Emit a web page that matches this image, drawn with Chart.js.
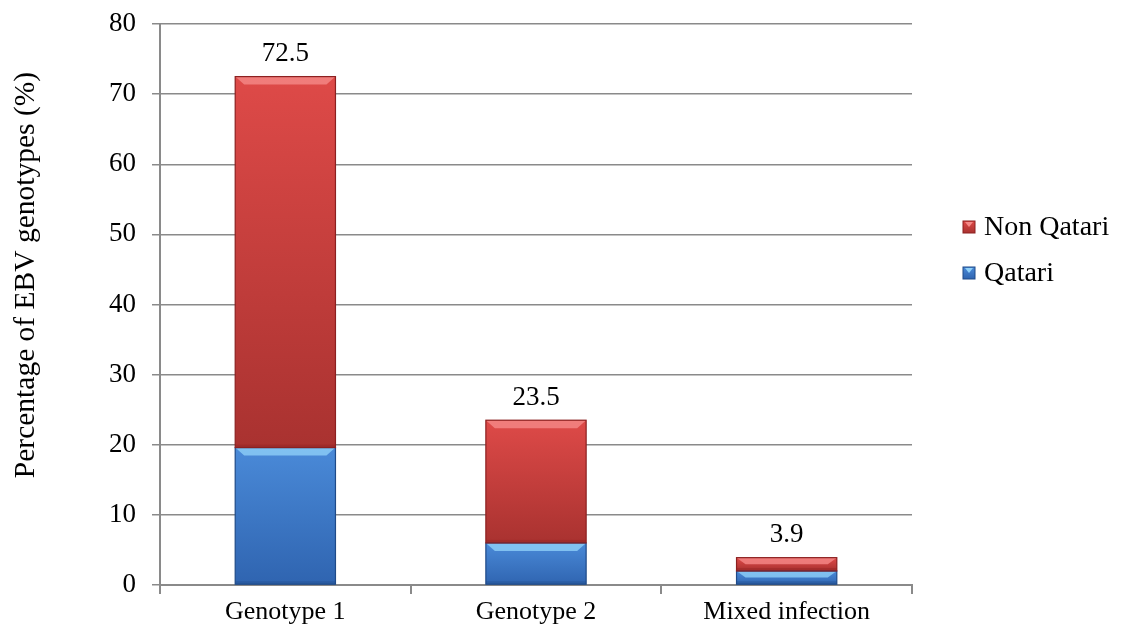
<!DOCTYPE html>
<html>
<head>
<meta charset="utf-8">
<script src="https://cdn.jsdelivr.net/npm/chart.js@4.4.1/dist/chart.umd.min.js"></script>
<style>
  html, body { margin: 0; padding: 0; background: #ffffff; }
  #wrap { width: 1125px; height: 631px; position: relative; }
</style>
</head>
<body>
<div id="wrap"><canvas id="ebvChart"></canvas></div>
<script>
'use strict';

/* ── Data ─────────────────────────────────── */
const CATEGORIES  = ['Genotype 1', 'Genotype 2', 'Mixed infection'];
const QATARI      = [19.6, 6.0, 2.0];
const NON_QATARI  = [52.9, 17.5, 1.9];
const TOTALS      = ['72.5', '23.5', '3.9'];
const SERIES_NAMES = ['Qatari', 'Non Qatari'];
const Y_TITLE     = 'Percentage of EBV genotypes (%)';

/* ── Look ─────────────────────────────────── */
const FONT = "'Liberation Serif', 'Times New Roman', serif";
const AXIS_GREY = '#8a8a8a';
const PALETTE = {
  red  : { top: '#de4a48', bottom: '#a93230', edge: '#8c2020', light: '#f58a88' },
  blue : { top: '#4a8ad8', bottom: '#2f64b0', edge: '#1f4a88', light: '#8fd0f8' },
};

/* ── Helpers ──────────────────────────────── */
// vertical gradient spanning one stacked segment
function segmentGradient(ctx, pal, stackBase) {
  const chart = ctx.chart;
  const y = chart.scales.y;
  if (!y || ctx.type !== 'data') return pal.top;
  const base = stackBase[ctx.dataIndex];
  const val  = ctx.raw;
  const yTop = y.getPixelForValue(base + val);
  const yBot = y.getPixelForValue(base);
  if (!isFinite(yTop) || !isFinite(yBot) || yTop === yBot) return pal.top;
  const g = chart.ctx.createLinearGradient(0, yTop, 0, yBot);
  g.addColorStop(0, pal.top);
  g.addColorStop(1, pal.bottom);
  return g;
}

const ZERO_BASE = CATEGORIES.map(() => 0);

/* ── Plugins ──────────────────────────────── */
// Excel-ish bevel on each segment
const bevelPlugin = {
  id: 'bevel',
  afterDatasetsDraw(chart) {
    const c = chart.ctx;
    chart.data.datasets.forEach((ds, di) => {
      const pal = di === 0 ? PALETTE.blue : PALETTE.red;
      chart.getDatasetMeta(di).data.forEach(el => {
        const { x, y, base, width } = el.getProps(['x', 'y', 'base', 'width'], true);
        const l = x - width / 2, r = x + width / 2;
        const h = Math.min(8, (base - y) / 2);
        c.save();
        // top highlight
        c.fillStyle = pal.light;
        c.globalAlpha = 0.8;
        c.beginPath();
        c.moveTo(l, y); c.lineTo(r, y);
        c.lineTo(r - 9, y + h); c.lineTo(l + 9, y + h);
        c.closePath(); c.fill();
        // bottom shade
        c.globalAlpha = 0.35;
        c.fillStyle = pal.edge;
        c.fillRect(l, base - 3, width, 3);
        c.globalAlpha = 1;
        c.strokeStyle = pal.edge;
        c.lineWidth = 1.2;
        c.strokeRect(l, y, width, base - y);
        c.restore();
      });
    });
  },
};

// totals above each stack
const totalsPlugin = {
  id: 'totals',
  afterDatasetsDraw(chart) {
    const c = chart.ctx;
    const meta = chart.getDatasetMeta(1);
    c.save();
    c.font = '27px ' + FONT;
    c.fillStyle = '#000000';
    c.textAlign = 'center';
    c.textBaseline = 'bottom';
    meta.data.forEach((el, i) => {
      c.fillText(TOTALS[i], el.x, el.y - 9);
    });
    c.restore();
  },
};

// rotated y title, sitting a bit above the plot middle like the original
const yTitlePlugin = {
  id: 'yTitle',
  afterDraw(chart) {
    const c = chart.ctx;
    c.save();
    c.translate(26, 275);
    c.rotate(-Math.PI / 2);
    c.font = '29.5px ' + FONT;
    c.fillStyle = '#000000';
    c.textAlign = 'center';
    c.textBaseline = 'middle';
    c.fillText(Y_TITLE, 0, 0);
    c.restore();
  },
};

// legend on the right, Non Qatari first
const legendPlugin = {
  id: 'sideLegend',
  afterDraw(chart) {
    const c = chart.ctx;
    const area = chart.chartArea;
    const rows = [
      { name: SERIES_NAMES[1], pal: PALETTE.red },
      { name: SERIES_NAMES[0], pal: PALETTE.blue },
    ];
    const x0 = area.right + 51;
    c.save();
    c.font = '28px ' + FONT;
    c.textBaseline = 'middle';
    c.textAlign = 'left';
    rows.forEach((row, i) => {
      const cy = 227 + i * 46;
      const g = c.createLinearGradient(0, cy - 6, 0, cy + 6);
      g.addColorStop(0, row.pal.top);
      g.addColorStop(1, row.pal.bottom);
      c.fillStyle = g;
      c.fillRect(x0, cy - 6, 12, 12);
      c.strokeStyle = row.pal.edge;
      c.lineWidth = 1;
      c.strokeRect(x0, cy - 6, 12, 12);
      c.fillStyle = row.pal.light;
      c.beginPath();
      c.moveTo(x0 + 2, cy - 5); c.lineTo(x0 + 10, cy - 5); c.lineTo(x0 + 6, cy);
      c.closePath(); c.fill();
      c.fillStyle = '#000000';
      c.fillText(row.name, x0 + 21, cy + 1);
    });
    c.restore();
  },
};

/* ── Chart ────────────────────────────────── */
function initChart() {
  const canvas = document.getElementById('ebvChart');

  new Chart(canvas.getContext('2d'), {
    type: 'bar',
    data: {
      labels: CATEGORIES,
      datasets: [
        {
          label          : SERIES_NAMES[0],
          data           : QATARI,
          backgroundColor: ctx => segmentGradient(ctx, PALETTE.blue, ZERO_BASE),
          borderWidth    : 0,
        },
        {
          label          : SERIES_NAMES[1],
          data           : NON_QATARI,
          backgroundColor: ctx => segmentGradient(ctx, PALETTE.red, QATARI),
          borderWidth    : 0,
        },
      ],
    },
    options: {
      responsive         : true,
      maintainAspectRatio: false,
      animation          : false,
      layout: { padding: { top: 24, right: 213, left: 0, bottom: 0 } },
      datasets: { bar: { categoryPercentage: 1.0, barPercentage: 0.4 } },
      plugins: {
        legend : { display: false },
        tooltip: { enabled: false },
      },
      scales: {
        x: {
          stacked: true,
          grid  : { offset: true, drawOnChartArea: false, drawTicks: true, tickLength: 9, color: AXIS_GREY, lineWidth: 2 },
          border: { color: AXIS_GREY, width: 2 },
          ticks : { color: '#000000', font: { family: FONT, size: 26 }, padding: 3 },
          afterFit: s => { s.height = 46; },
        },
        y: {
          stacked: true,
          min: 0, max: 80,
          grid  : { color: AXIS_GREY, lineWidth: 1.5, tickLength: 8 },
          border: { color: AXIS_GREY, width: 2 },
          ticks : { stepSize: 10, color: '#000000', font: { family: FONT, size: 27 }, padding: 16 },
          afterFit: s => { s.width = 160; s.paddingTop = 0; s.paddingBottom = 0; },
        },
      },
    },
    plugins: [bevelPlugin, totalsPlugin, yTitlePlugin, legendPlugin],
  });
}

document.addEventListener('DOMContentLoaded', initChart);
</script>
</body>
</html>
